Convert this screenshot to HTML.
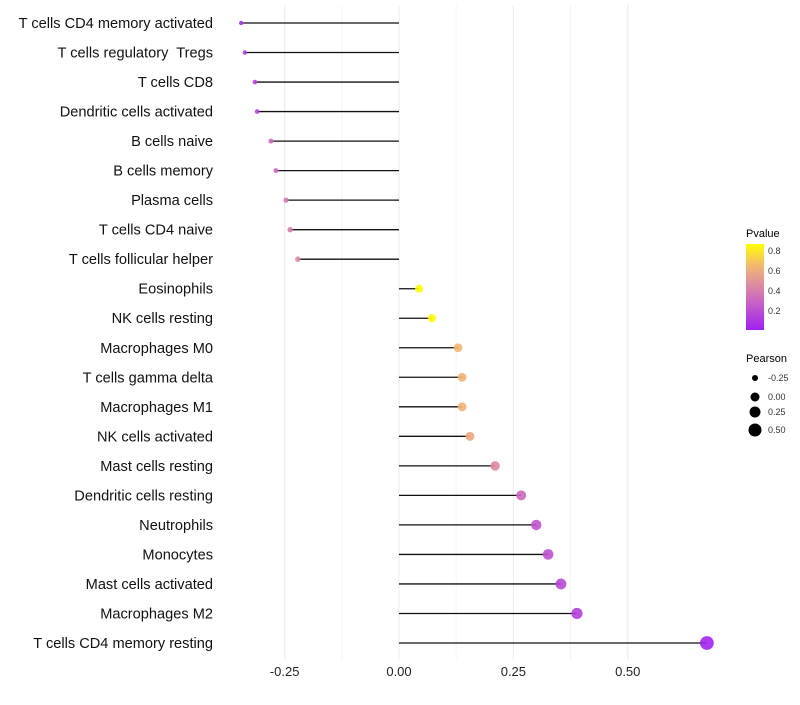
<!DOCTYPE html>
<html><head><meta charset="utf-8"><style>
body{margin:0;background:#fff;font-family:"Liberation Sans",sans-serif}
text{white-space:pre}
</style></head><body>
<svg id="c" width="800" height="700" xmlns="http://www.w3.org/2000/svg">
<defs><linearGradient id="pg" x1="0" y1="1" x2="0" y2="0">
<stop offset="0" stop-color="#a020f0"/><stop offset="0.3" stop-color="#c55ec8"/><stop offset="0.55" stop-color="#e0909c"/><stop offset="0.75" stop-color="#f2b870"/><stop offset="1" stop-color="#ffff00"/></linearGradient></defs>
<g id="grid"></g><g id="marks"></g><g id="labels"></g>
<g font-size="10">
<text x="746" y="237" font-size="11" fill="#000">Pvalue</text>
<rect x="746" y="244" width="18" height="86" fill="url(#pg)"/>
<text x="768" y="254" fill="#333" font-size="9">0.8</text>
<text x="768" y="274" fill="#333" font-size="9">0.6</text>
<text x="768" y="294" fill="#333" font-size="9">0.4</text>
<text x="768" y="314" fill="#333" font-size="9">0.2</text>
<text x="746" y="362" font-size="11" fill="#000">Pearson</text>
<circle cx="755" cy="378" r="3" fill="#000"/><text x="768" y="381" fill="#333" font-size="9">-0.25</text>
<circle cx="755" cy="397" r="4.5" fill="#000"/><text x="768" y="400" fill="#333" font-size="9">0.00</text>
<circle cx="755" cy="412" r="5.5" fill="#000"/><text x="768" y="415" fill="#333" font-size="9">0.25</text>
<circle cx="755" cy="430" r="6.5" fill="#000"/><text x="768" y="433" fill="#333" font-size="9">0.50</text>
</g>
</svg>
<script>
const cells=["T cells CD4 memory activated","T cells regulatory  Tregs","T cells CD8","Dendritic cells activated","B cells naive","B cells memory","Plasma cells","T cells CD4 naive","T cells follicular helper","Eosinophils","NK cells resting","Macrophages M0","T cells gamma delta","Macrophages M1","NK cells activated","Mast cells resting","Dendritic cells resting","Neutrophils","Monocytes","Mast cells activated","Macrophages M2","T cells CD4 memory resting"];
const pearson=[-0.345,-0.337,-0.315,-0.31,-0.28,-0.269,-0.247,-0.238,-0.221,0.044,0.072,0.129,0.138,0.138,0.155,0.21,0.267,0.30,0.326,0.354,0.389,0.673];
const pvalue=[0.08,0.1,0.14,0.15,0.3,0.32,0.38,0.4,0.45,0.86,0.84,0.64,0.63,0.63,0.58,0.45,0.3,0.22,0.2,0.17,0.13,0.02];
const ticks=[-0.25,0,0.25,0.5];
const tickLabels=["-0.25","0.00","0.25","0.50"];
const NS="http://www.w3.org/2000/svg";
const x=v=>399+v*457.5;
const y=i=>23+i*(620/21);
const r=v=>2.2+(v+0.345)/1.018*4.7;
function mix(a,b,t){return a.map((c,k)=>Math.round(c+(b[k]-c)*t));}
const stops=[[0,[160,32,240]],[0.26,[197,94,200]],[0.47,[224,144,156]],[0.645,[242,184,112]],[0.86,[255,255,0]]];
function col(p){for(let k=1;k<stops.length;k++){if(p<=stops[k][0]||k==stops.length-1){const t=Math.max(0,Math.min(1,(p-stops[k-1][0])/(stops[k][0]-stops[k-1][0])));return "rgb("+mix(stops[k-1][1],stops[k][1],t).join(",")+")";}}}
function el(t,a,p){const e=document.createElementNS(NS,t);for(const k in a)e.setAttribute(k,a[k]);p.appendChild(e);return e;}
const g=document.getElementById('grid'),m=document.getElementById('marks'),L=document.getElementById('labels');
[-0.125,0.125,0.375].forEach(v=>{const l=el('line',{x1:x(v),x2:x(v),y1:5,y2:660,stroke:'#f4f4f4','stroke-width':1},g);

});
ticks.forEach((v,i)=>{const l=el('line',{x1:x(v),x2:x(v),y1:5,y2:660,stroke:'#eeeeee','stroke-width':1.2},g);


const t=el('text',{x:x(v),y:676,'text-anchor':'middle','font-size':13,fill:'#222'},L);t.textContent=tickLabels[i];

});
cells.forEach((c,i)=>{
const t=el('text',{x:213,y:y(i)+5,'text-anchor':'end','font-size':14.6,fill:'#111'},L);t.textContent=c;


const l=el('line',{x1:x(0),x2:x(pearson[i]),y1:y(i),y2:y(i),stroke:'#111','stroke-width':1.3},m);


const d=el('circle',{cx:x(pearson[i]),cy:y(i),r:r(pearson[i]),fill:col(pvalue[i]),'fill-opacity':0.9},m);


});
</script>
</body></html>
